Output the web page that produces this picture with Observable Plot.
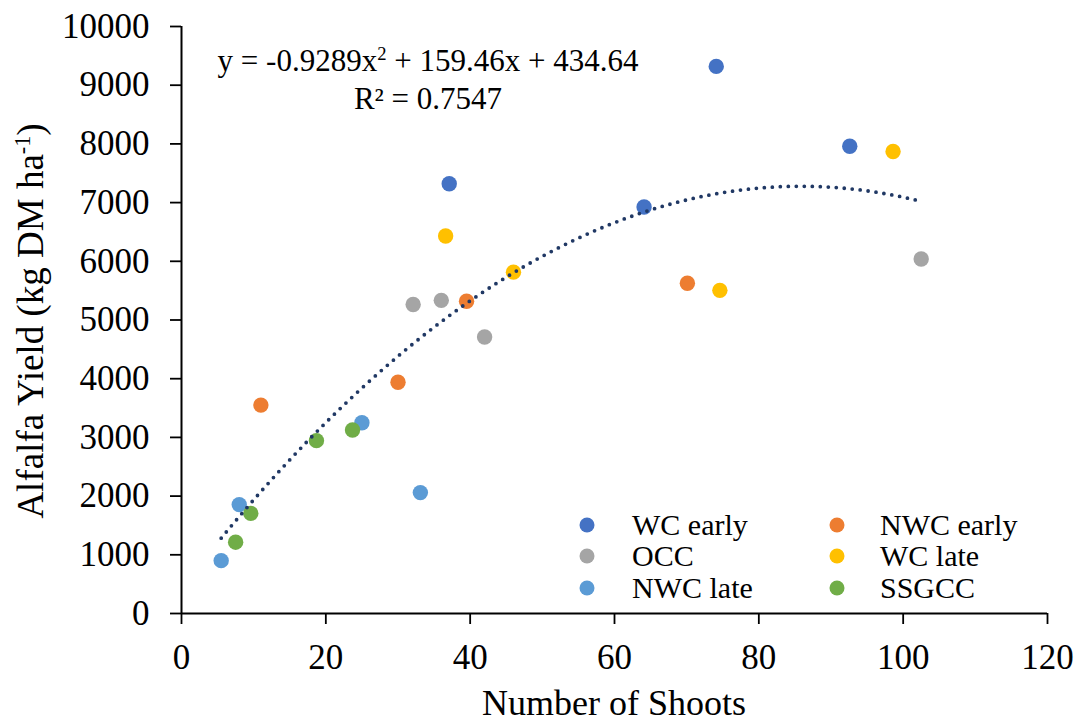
<!DOCTYPE html>
<html>
<head>
<meta charset="utf-8">
<script src="https://cdn.jsdelivr.net/npm/d3@7"></script>
<script src="https://cdn.jsdelivr.net/npm/@observablehq/plot@0.6"></script>
<style>
  html, body { margin: 0; padding: 0; background: #fff; }
  #wrap { position: relative; width: 1081px; height: 724px; font-family: "Liberation Serif", "Times New Roman", serif; color: #000; overflow: hidden; }
  .ov { position: absolute; white-space: nowrap; }
  #ytitle { left: 31px; top: 321px; transform: translate(-50%, -50%) rotate(-90deg); font-size: 37px; line-height: 36px; }
  #xtitle { left: 614px; top: 703px; transform: translate(-50%, -50%); font-size: 36px; line-height: 30px; }
  #eq { left: 428px; top: 42px; transform: translateX(-50%); text-align: center; font-size: 31px; line-height: 38px; }
  #legend { left: 0; top: 0; width: 1081px; height: 724px; pointer-events: none; }
  .li { position: absolute; font-size: 30px; line-height: 28px; transform: translateY(-50%); }
  .sw { position: absolute; width: 15px; height: 15px; border-radius: 50%; transform: translate(-50%, -50%); }
  sup { font-size: 0.6em; vertical-align: 0.6em; line-height: 0; }
</style>
</head>
<body>
<div id="wrap"></div>
<script>
// Categories and colours
const groups = ["WC early", "NWC early", "OCC", "WC late", "NWC late", "SSGCC"];
const colors = ["#4472C4", "#ED7D31", "#A5A5A5", "#FFC000", "#5B9BD5", "#70AD47"];

// Series values (number of shoots, alfalfa yield)
const wcEarlyX = [37.1, 64.1, 74.1, 92.6];
const wcEarlyY = [7320, 6925, 9320, 7960];
const nwcEarlyX = [11.0, 30.0, 39.5, 70.1];
const nwcEarlyY = [3550, 3940, 5320, 5625];
const occX = [32.1, 36.0, 42.0, 102.5];
const occY = [5265, 5335, 4710, 6040];
const wcLateX = [36.6, 46.0, 74.6, 98.6];
const wcLateY = [6430, 5815, 5505, 7870];
const nwcLateX = [5.5, 8.0, 25.0, 33.1];
const nwcLateY = [900, 1855, 3250, 2060];
const ssgccX = [7.5, 9.6, 18.7, 23.7];
const ssgccY = [1215, 1705, 2945, 3125];

// Trendline coefficients as printed on the chart: y = a x^2 + b x + c
const trendCoef = [-0.9289, 159.46, 434.64];
const trendLabel = ["y = -0.9289x<sup>2</sup> + 159.46x + 434.64", "R² = 0.7547"];

// Tick labels
const xTicks = [0, 20, 40, 60, 80, 100, 120];
const yTicks = [0, 1000, 2000, 3000, 4000, 5000, 6000, 7000, 8000, 9000, 10000];

const seriesX = [wcEarlyX, nwcEarlyX, occX, wcLateX, nwcLateX, ssgccX];
const seriesY = [wcEarlyY, nwcEarlyY, occY, wcLateY, nwcLateY, ssgccY];
const points = [];
groups.forEach((g, i) => seriesX[i].forEach((x, j) => points.push({group: g, x, y: seriesY[i][j]})));

const xmin = d3.min(points, d => d.x), xmax = d3.max(points, d => d.x);
const trend = d3.range(0, 201).map(k => {
  const x = xmin + (xmax - xmin) * k / 200;
  return {x, y: trendCoef[0] * x * x + trendCoef[1] * x + trendCoef[2]};
});

const chart = Plot.plot({
  width: 1081,
  height: 724,
  marginLeft: 181,
  marginRight: 34,
  marginTop: 26,
  marginBottom: 111,
  style: {fontFamily: "Liberation Serif, Times New Roman, serif", fontSize: "35px", color: "#000", background: "#fff"},
  x: {domain: [0, 120]},
  y: {domain: [0, 10000]},
  color: {domain: groups, range: colors},
  marks: [
    Plot.axisX({ticks: xTicks, tickSize: 11, tickPadding: 20, label: null, stroke: "#000", strokeWidth: 1.8, strokeOpacity: 1, fontSize: 35}),
    Plot.axisY({ticks: yTicks, tickSize: 11, tickPadding: 21, label: null, tickFormat: d => String(d), stroke: "#000", strokeWidth: 1.8, strokeOpacity: 1, fontSize: 35}),
    Plot.ruleX([0], {stroke: "#000", strokeWidth: 2}),
    Plot.ruleY([0], {stroke: "#000", strokeWidth: 2}),
    Plot.dot(points, {x: "x", y: "y", fill: "group", r: 7.7, stroke: "none"}),
    Plot.line(trend, {x: "x", y: "y", stroke: "#203864", strokeWidth: 3.8, strokeDasharray: "0 8", strokeLinecap: "round", curve: "linear"})
  ]
});

const wrap = document.getElementById("wrap");
wrap.appendChild(chart);

const yt = document.createElement("div");
yt.className = "ov"; yt.id = "ytitle";
yt.innerHTML = "Alfalfa Yield (kg DM ha<sup>-1</sup>)";
wrap.appendChild(yt);

const xt = document.createElement("div");
xt.className = "ov"; xt.id = "xtitle";
xt.textContent = "Number of Shoots";
wrap.appendChild(xt);

const eq = document.createElement("div");
eq.className = "ov"; eq.id = "eq";
eq.innerHTML = trendLabel.join("<br>");
wrap.appendChild(eq);

// Legend (two columns, three rows)
const leg = document.createElement("div");
leg.className = "ov"; leg.id = "legend";
const colSw = [587, 837], colTx = [632, 880], rowY = [525, 556, 588];
groups.forEach((g, i) => {
  const c = i % 2, r = Math.floor(i / 2);
  const sw = document.createElement("div");
  sw.className = "sw";
  sw.style.left = colSw[c] + "px"; sw.style.top = rowY[r] + "px"; sw.style.background = colors[i];
  leg.appendChild(sw);
  const t = document.createElement("div");
  t.className = "li";
  t.style.left = colTx[c] + "px"; t.style.top = rowY[r] + "px";
  t.textContent = g;
  leg.appendChild(t);
});
wrap.appendChild(leg);
</script>
</body>
</html>
